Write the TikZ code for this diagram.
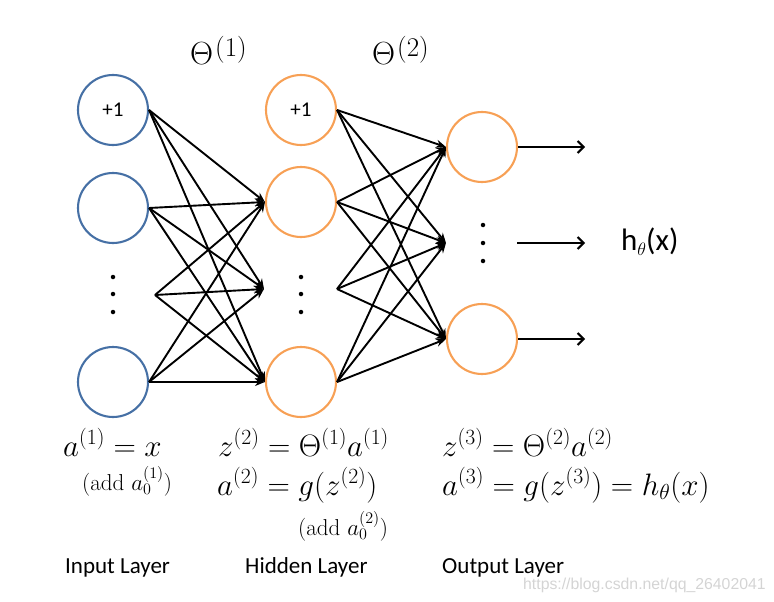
\RequirePackage{fix-cm}
\documentclass[tikz,border=0pt]{standalone}
\usepackage{fontspec}
\newfontfamily\calib{Carlito}
\newfontfamily\arialf{Liberation Sans}
\usetikzlibrary{arrows.meta}
\definecolor{inblue}{RGB}{70,112,165}
\definecolor{hidorange}{RGB}{247,160,85}
\definecolor{wmgray}{RGB}{212,212,212}
\begin{document}
\begin{tikzpicture}[x=1pt,y=-1pt,
  neuron/.style={circle,minimum size=70pt,inner sep=0pt,line width=2.1pt,font=\calib\fontsize{21}{21}\selectfont},
  inneuron/.style={neuron,draw=inblue},
  hidneuron/.style={neuron,draw=hidorange},
  conn/.style={line width=1.9pt,-{Stealth[length=10pt,width=8pt]}},
  outarrow/.style={line width=2pt,-{Straight Barb[length=6pt,width=12pt,line width=2pt]}},
  smalldot/.style={circle,fill=black,inner sep=0pt,minimum size=4.5pt},
  eq/.style={anchor=base west,inner sep=0pt,font=\fontsize{31}{36}\selectfont},
  thlabel/.style={anchor=base west,inner sep=0pt,font=\fontsize{32}{36}\selectfont},
  smalleq/.style={anchor=base west,inner sep=0pt,font=\fontsize{23}{26}\selectfont},
  layername/.style={anchor=base west,inner sep=0pt,font=\calib\fontsize{23}{26}\selectfont}]
\useasboundingbox (0,0) rectangle (774,602);

% neurons
\node[inneuron] (i1) at (113,110) {+1};
\node[inneuron] (i2) at (113,208) {};
\node[inneuron] (i3) at (113,382) {};
\node[hidneuron] (h1) at (301,110) {+1};
\node[hidneuron] (h2) at (301,202) {};
\node[hidneuron] (h3) at (301,382) {};
\node[hidneuron] (o1) at (482,147) {};
\node[hidneuron] (o3) at (482,339) {};

% vertical dots
\foreach \yy/\k in {277/1,294/2,312/3}{
  \node[smalldot] (id\k) at (113,\yy) {};
  \node[smalldot] (hd\k) at (301,\yy) {};
}
\foreach \yy/\k in {225/1,243/2,261/3}{
  \node[smalldot] (od\k) at (483,\yy) {};
}

% free ends
\coordinate (isrc) at (155,295);
\coordinate (htgt) at (264,289);
\coordinate (hsrc) at (337,289);
\coordinate (otgt) at (446,243);
\coordinate (mstart) at (517,243);
\coordinate (e1) at (585,147);
\coordinate (e2) at (585,243);
\coordinate (e3) at (585,339);

% connections layer 1 -> 2
\foreach \s in {i1.east,i2.east,isrc,i3.east}
  \foreach \t in {h2.west,htgt,h3.west}
    \draw[conn] (\s) -- (\t);
% connections layer 2 -> 3
\foreach \s in {h1.east,h2.east,hsrc,h3.east}
  \foreach \t in {o1.west,otgt,o3.west}
    \draw[conn] (\s) -- (\t);

% outputs
\draw[outarrow] (o1.east) -- (e1);
\draw[outarrow] (mstart) -- (e2);
\draw[outarrow] (o3.east) -- (e3);
\node[anchor=base west,inner sep=0pt,font=\calib\fontsize{31}{32}\selectfont] (hx) at (621,250) {h\raisebox{-5pt}{\fontsize{18}{18}\selectfont$\theta$}(x)};

% weight labels
\node[thlabel] (th1) at (190,65) {$\Theta$\hspace{2pt}\raisebox{9pt}{\fontsize{27}{27}\selectfont(1)}};
\node[thlabel] (th2) at (372,65) {$\Theta$\hspace{2pt}\raisebox{9pt}{\fontsize{27}{27}\selectfont(2)}};

% equations
\node[eq] (eqa1) at (63,456) {$a^{(1)} = x$};
\node[smalleq] (add1) at (82,490) {(add $a_0^{(1)}$)};
\node[eq] (eqz2) at (218,456) {$z^{(2)} = \Theta^{(1)}a^{(1)}$};
\node[eq] (eqa2) at (217,495) {$a^{(2)} = g(z^{(2)})$};
\node[smalleq] (add2) at (298,535) {(add $a_0^{(2)}$)};
\node[eq] (eqz3) at (442,456) {$z^{(3)} = \Theta^{(2)}a^{(2)}$};
\node[eq] (eqa3) at (442,495) {$a^{(3)} = g(z^{(3)}) = h_\theta(x)$};

% layer names
\node[layername] (ln1) at (65,573) {Input Layer};
\node[layername] (ln2) at (245,573) {Hidden Layer};
\node[layername] (ln3) at (442,573) {Output Layer};

% watermark
\node[anchor=base west,inner sep=0pt,text=wmgray,font=\arialf\fontsize{15.8}{18}\selectfont] (wm) at (523,589) {https://blog.csdn.net/qq\_26402041};
\end{tikzpicture}
\end{document}
